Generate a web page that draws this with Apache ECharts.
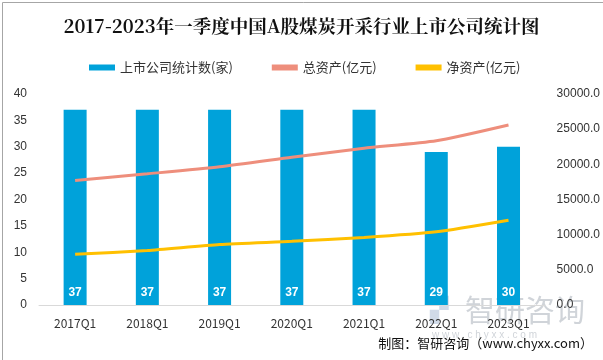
<!DOCTYPE html>
<html><head><meta charset="utf-8">
<script src="https://cdn.jsdelivr.net/npm/echarts@6/dist/echarts.min.js"></script>
<style>html,body{margin:0;padding:0;background:#fff}#c{width:603px;height:360px}</style>
</head><body><div id="c"></div>
<script>
const categories = ['2017Q1','2018Q1','2019Q1','2020Q1','2021Q1','2022Q1','2023Q1'];
const companyCount = [37,37,37,37,37,29,30];
const totalAssets = [17700,18650,19650,21000,22300,23350,25600];
const netAssets = [7200,7750,8600,9050,9600,10400,12050];
const leftTicks = [0,40,5];
const rightTicks = [0,30000,5000];

const chart = echarts.init(document.getElementById('c'));
const font = '"Microsoft YaHei","Noto Sans CJK SC",sans-serif';
chart.setOption({
  animation:false,
  title:{text:'2017-2023年一季度中国A股煤炭开采行业上市公司统计图',left:'center',top:12,
    textStyle:{fontFamily:'"Noto Serif CJK SC","Noto Sans CJK SC",serif',fontSize:18.5,fontWeight:'bold',color:'#111'}},
  legend:{top:56,left:84,itemGap:39,itemWidth:26,itemHeight:6,
    textStyle:{fontFamily:font,fontSize:13,color:'#333'},
    data:[{name:'上市公司统计数(家)',icon:'rect'},{name:'总资产(亿元)',icon:'rect'},{name:'净资产(亿元)',icon:'rect'}]},
  grid:{left:39,right:56,top:94,bottom:55},
  xAxis:{type:'category',data:categories,
    axisLine:{lineStyle:{color:'#d9d9d9'}},axisTick:{show:false},
    axisLabel:{color:'#333',fontSize:12,margin:12,fontFamily:font}},
  yAxis:[{type:'value',min:leftTicks[0],max:leftTicks[1],interval:leftTicks[2],
     splitLine:{show:false},axisLine:{show:false},axisTick:{show:false},
     axisLabel:{color:'#333',fontSize:12,margin:12}},
    {type:'value',min:rightTicks[0],max:rightTicks[1],interval:rightTicks[2],
     splitLine:{show:false},axisLine:{show:false},axisTick:{show:false},
     axisLabel:{color:'#333',fontSize:12,margin:12,formatter:v=>v.toFixed(1)}}],
  series:[
    {name:'上市公司统计数(家)',type:'bar',data:companyCount,barWidth:23,
     itemStyle:{color:'#00A2DA'},
     label:{show:true,position:'insideBottom',distance:6,color:'#fff',fontSize:12,fontWeight:'bold'}},
    {name:'总资产(亿元)',type:'line',yAxisIndex:1,data:totalAssets,smooth:0.2,symbol:'none',
     lineStyle:{color:'#EE8E7C',width:3},itemStyle:{color:'#EE8E7C'}},
    {name:'净资产(亿元)',type:'line',yAxisIndex:1,data:netAssets,smooth:0.2,symbol:'none',
     lineStyle:{color:'#FFC000',width:3},itemStyle:{color:'#FFC000'}}
  ],
  graphic:[
    {type:'rect',left:0,top:0,shape:{width:602,height:359},style:{fill:'none',stroke:'#a6a6a6',lineWidth:1},silent:true},
    {type:'text',left:465,top:295,z:-1,style:{text:'智研咨询',fontSize:30,fill:'rgba(150,160,170,0.45)',fontFamily:font}},
    {type:'text',left:430,top:299,z:-1,style:{text:'▞',fontSize:24,fill:'rgba(120,150,190,0.35)'}},
    {type:'text',left:432,top:330,z:-1,style:{text:'w w w . c h y x x . c o m',fontSize:10,fill:'rgba(150,160,170,0.45)'}},
    {type:'text',right:10,top:337,style:{text:'制图：智研咨询（www.chyxx.com）',fontSize:13,fill:'#111',fontFamily:'"Noto Sans CJK SC",sans-serif'}}
  ]
});
</script></body></html>
